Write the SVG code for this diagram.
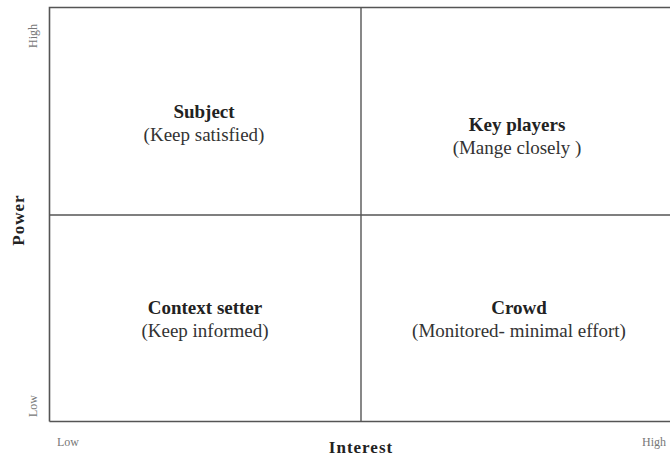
<svg xmlns="http://www.w3.org/2000/svg" width="670" height="457" viewBox="0 0 670 457">
  <style>
    .axis { stroke: #555; stroke-width: 1.6; fill: none; }
    .grid { stroke: #555; stroke-width: 1.4; fill: none; }
    .title { font-family: "Liberation Serif", serif; font-weight: bold; font-size: 19px; fill: #222; text-anchor: middle; }
    .sub { font-family: "Liberation Serif", serif; font-size: 19px; fill: #333; text-anchor: middle; }
    .tick { font-family: "Liberation Serif", serif; font-size: 12px; fill: #777; text-anchor: middle; }
    .axlabel { font-family: "Liberation Serif", serif; font-weight: bold; font-size: 17px; fill: #222; text-anchor: middle; letter-spacing: 1px; }
  </style>
  <rect width="670" height="457" fill="#fff"/>
  <g id="connectors">
    <path class="axis" d="M49.5 421.5 V7.5 H670"/>
    <path class="axis" d="M49.5 421.5 H670"/>
    <path class="grid" d="M361 7.5 V421.5"/>
    <path class="grid" d="M49.5 215 H670"/>
  </g>
  <g id="axis-power">
    <text class="axlabel" transform="translate(24 220) rotate(-90)">Power</text>
    <text class="tick" transform="translate(37 36) rotate(-90)">High</text>
    <text class="tick" transform="translate(37 406) rotate(-90)">Low</text>
  </g>
  <g id="axis-interest">
    <text class="axlabel" x="361" y="453">Interest</text>
    <text class="tick" x="68" y="446">Low</text>
    <text class="tick" x="654" y="446">High</text>
  </g>
  <g id="subject">
    <text class="title" x="204" y="118">Subject</text>
    <text class="sub" x="204" y="141">(Keep satisfied)</text>
  </g>
  <g id="key-players">
    <text class="title" x="517" y="131">Key players</text>
    <text class="sub" x="517" y="154">(Mange closely )</text>
  </g>
  <g id="context-setter">
    <text class="title" x="205" y="314">Context setter</text>
    <text class="sub" x="205" y="337">(Keep informed)</text>
  </g>
  <g id="crowd">
    <text class="title" x="519" y="314">Crowd</text>
    <text class="sub" x="519" y="337">(Monitored- minimal effort)</text>
  </g>
</svg>
